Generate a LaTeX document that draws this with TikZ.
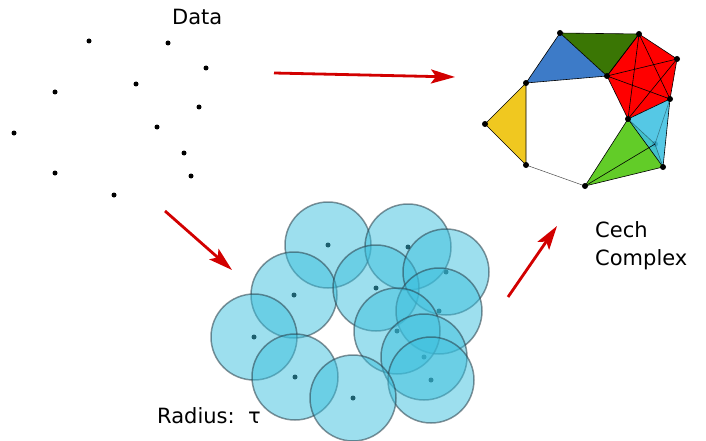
\documentclass[tikz,border=0pt]{standalone}
\usepackage{fontspec}
\setmainfont{DejaVu Sans}
\usetikzlibrary{arrows.meta,positioning}
\definecolor{ballfill}{RGB}{59,191,221}
\definecolor{ballline}{RGB}{40,60,70}
\definecolor{arrred}{RGB}{210,0,0}
\definecolor{cblue}{RGB}{61,123,200}
\definecolor{cdkgreen}{RGB}{58,118,4}
\definecolor{cyellow}{RGB}{240,200,32}
\definecolor{ccyan}{RGB}{62,192,225}
\definecolor{cgreen}{RGB}{98,204,40}

\begin{document}
\begin{tikzpicture}[x=1pt,y=-1pt,
    datapt/.style={circle, fill=black, inner sep=0pt, minimum size=5pt},
    ball/.style={circle, inner sep=0pt, minimum size=86pt, fill=ballfill, fill opacity=0.5,
                 draw=ballline, draw opacity=0.55, line width=1.5pt},
    vert/.style={circle, fill=black, inner sep=0pt, minimum size=6pt},
    face/.style={draw=black, line width=0.6pt, line join=round},
    flow/.style={draw=arrred, line width=2.8pt, -{Stealth[length=24pt,width=14pt,inset=5pt]}},
    lbl/.style={font=\fontsize{21}{28}\selectfont, inner sep=0pt, anchor=base west}]
  \useasboundingbox (0,0) rectangle (706,441);

  % Define nodes
  \node[lbl] (data) at (172,25) {Data};
  \node[lbl] (cech) at (595,237) {Cech};
  \node[lbl, below=28pt of cech.base west, anchor=base west] (complex) {Complex};
  \node[lbl] (radius) at (157,423) {Radius:\ \ τ};

  % Data points
  \node[datapt] (d1) at (89,41) {};
  \node[datapt] (d2) at (168,43) {};
  \node[datapt] (d3) at (206,68) {};
  \node[datapt] (d4) at (55,92) {};
  \node[datapt] (d5) at (136,84) {};
  \node[datapt] (d6) at (199,107) {};
  \node[datapt] (d7) at (14,133) {};
  \node[datapt] (d8) at (157,127) {};
  \node[datapt] (d9) at (184,153) {};
  \node[datapt] (d10) at (55,173) {};
  \node[datapt] (d11) at (191,176) {};
  \node[datapt] (d12) at (114,195) {};

  % Ball centres, then the balls over them
  \node[datapt] (c1) at (328,245) {};
  \node[datapt] (c2) at (408,247) {};
  \node[datapt] (c3) at (294,295) {};
  \node[datapt] (c4) at (376,288) {};
  \node[datapt] (c5) at (446,272) {};
  \node[datapt] (c6) at (439,311) {};
  \node[datapt] (c7) at (254,337) {};
  \node[datapt] (c8) at (397,331) {};
  \node[datapt] (c9) at (295,377) {};
  \node[datapt] (c10) at (424,357) {};
  \node[datapt] (c11) at (431,380) {};
  \node[datapt] (c12) at (353,398) {};

  \node[ball] (b1) at (c1) {};
  \node[ball] (b2) at (c2) {};
  \node[ball] (b3) at (c3) {};
  \node[ball] (b4) at (c4) {};
  \node[ball] (b5) at (c5) {};
  \node[ball] (b6) at (c6) {};
  \node[ball] (b7) at (c7) {};
  \node[ball] (b8) at (c8) {};
  \node[ball] (b9) at (c9) {};
  \node[ball] (b10) at (c10) {};
  \node[ball] (b11) at (c11) {};
  \node[ball] (b12) at (c12) {};

  % Complex vertices
  \coordinate (vA) at (560,33);
  \coordinate (vB) at (639,34);
  \coordinate (vC) at (677,59);
  \coordinate (vD) at (607,76);
  \coordinate (vE) at (526,83);
  \coordinate (vF) at (670,99);
  \coordinate (vG) at (485,124);
  \coordinate (vH) at (628,119);
  \coordinate (vI) at (655,144);
  \coordinate (vJ) at (526,165);
  \coordinate (vK) at (663,167);
  \coordinate (vL) at (585,186);

  % Faces
  \fill[cblue] (vA) -- (vD) -- (vE) -- cycle;
  \fill[cdkgreen] (vA) -- (vB) -- (vD) -- cycle;
  \fill[red] (vB) -- (vC) -- (vF) -- (vH) -- (vD) -- cycle;
  \fill[cyellow] (vE) -- (vG) -- (vJ) -- cycle;
  \fill[cgreen] (vH) -- (vI) -- (vK) -- (vL) -- cycle;
  \node[vert] (nI) at (vI) {};
  \fill[ccyan, opacity=0.88] (vH) -- (vF) -- (vK) -- cycle;

  % Connect the nodes
  \draw[face] (vA) -- (vD) -- (vE) -- cycle;
  \draw[face] (vA) -- (vB) -- (vD);
  \draw[face] (vB) -- (vC) -- (vF) -- (vH) -- (vD) -- cycle;
  \draw[face] (vB) -- (vF) (vB) -- (vH) (vC) -- (vD) (vC) -- (vH) (vD) -- (vF);
  \draw[face] (vE) -- (vG) -- (vJ) -- cycle;
  \draw[face, draw=black!70, line width=0.5pt] (vJ) -- (vL);
  \draw[face] (vF) -- (vK) -- (vL) -- (vH) -- (vK);
  \draw[face] (vL) -- (vI);
  \draw[face, draw opacity=0.4] (vH) -- (vI) -- (vK) (vF) -- (vI);

  \node[vert] (nA) at (vA) {};
  \node[vert] (nB) at (vB) {};
  \node[vert] (nC) at (vC) {};
  \node[vert] (nD) at (vD) {};
  \node[vert] (nE) at (vE) {};
  \node[vert] (nF) at (vF) {};
  \node[vert] (nG) at (vG) {};
  \node[vert] (nH) at (vH) {};
  \node[vert] (nJ) at (vJ) {};
  \node[vert] (nK) at (vK) {};
  \node[vert] (nL) at (vL) {};

  % Arrows
  \coordinate (a1s) at (274,73);
  \coordinate (a1e) at (455,77);
  \coordinate (a2s) at (165,211);
  \coordinate (a2e) at (232,270);
  \coordinate (a3s) at (508,297);
  \coordinate (a3e) at (557,226);
  \draw[flow] (a1s) -- (a1e);
  \draw[flow] (a2s) -- (a2e);
  \draw[flow] (a3s) -- (a3e);
\end{tikzpicture}
\end{document}
